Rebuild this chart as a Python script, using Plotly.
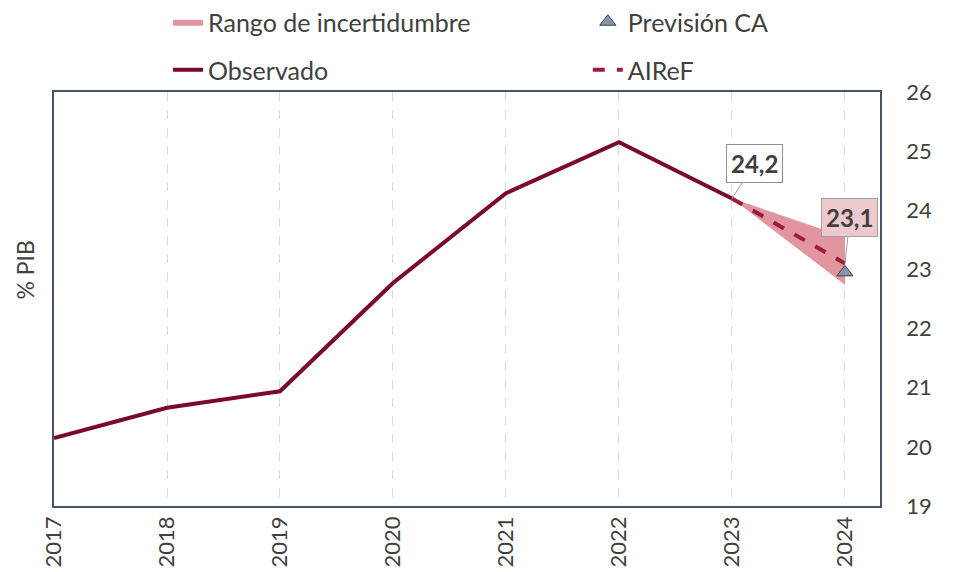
import plotly.graph_objects as go

years = [2017, 2018, 2019, 2020, 2021, 2022, 2023]
observado = [20.15, 20.66, 20.94, 22.77, 24.29, 25.15, 24.2]
airef_x = [2023, 2024]
airef_y = [24.2, 23.1]
band_lower = [24.2, 22.74]
band_upper = [24.2, 23.55]
ca_x = [2024]
ca_y = [22.95]
tick_years = [2017, 2018, 2019, 2020, 2021, 2022, 2023, 2024]

FONT = "Lato"
TXT = "#404040"

fig = go.Figure()
fig.add_trace(go.Scatter(x=airef_x, y=band_lower, mode="lines", line=dict(width=0),
                         showlegend=False, hoverinfo="skip"))
fig.add_trace(go.Scatter(x=airef_x, y=band_upper, mode="lines", line=dict(width=0),
                         fill="tonexty", fillcolor="#e3959f", name="Rango de incertidumbre",
                         legend="legend"))
fig.add_trace(go.Scatter(x=years, y=observado, mode="lines", name="Observado",
                         line=dict(color="#7b0a2a", width=4), legend="legend3"))
fig.add_trace(go.Scatter(x=airef_x, y=airef_y, mode="lines", name="AIReF",
                         line=dict(color="#9c1c3c", width=4, dash="dash"),
                         legend="legend4"))
fig.add_trace(go.Scatter(x=ca_x, y=ca_y, mode="markers", name="Previsión CA",
                         marker=dict(symbol="triangle-up", size=14, color="#8497b0",
                                     line=dict(color="#404040", width=1)),
                         legend="legend2"))

fig.add_annotation(x=airef_x[0], y=airef_y[0], text="<b>24,2</b>", showarrow=True,
                   arrowhead=0, arrowcolor="#a0a0a0", arrowwidth=1, ax=23, ay=-35,
                   bgcolor="white", bordercolor="#909090", borderwidth=1, borderpad=4,
                   font=dict(family=FONT, size=24, color=TXT))
fig.add_annotation(x=airef_x[1], y=airef_y[1], text="<b>23,1</b>", showarrow=True,
                   arrowhead=0, arrowcolor="#a0a0a0", arrowwidth=1, ax=5, ay=-46,
                   bgcolor="#ecc9cc", bordercolor="#a0a0a0", borderwidth=1, borderpad=4,
                   font=dict(family=FONT, size=24, color=TXT))
fig.add_annotation(x=-0.055, y=0.57, xref="paper", yref="paper", text="% PIB",
                   textangle=-90, showarrow=False, font=dict(family=FONT, size=23, color=TXT))

leg_common = dict(orientation="h", xanchor="left", yanchor="middle",
                  xref="container", yref="container",
                  font=dict(family=FONT, size=25, color=TXT), bgcolor="rgba(0,0,0,0)")
col1, col2 = 0.175, 0.6123
row1, row2 = 0.9615, 0.8776

fig.update_layout(
    width=960, height=572,
    margin=dict(l=54, r=80, t=92, b=66, autoexpand=False),
    paper_bgcolor="white", plot_bgcolor="white",
    font=dict(family=FONT, size=20, color=TXT),
    legend=dict(x=col1, y=row1, **leg_common),
    legend2=dict(x=col2, y=row1, **leg_common),
    legend3=dict(x=col1, y=row2, **leg_common),
    legend4=dict(x=col2, y=row2, **leg_common),
    xaxis=dict(range=[2017, 2024.31], tickvals=tick_years, ticktext=[str(y) for y in tick_years],
               tickangle=-90, showgrid=True, gridcolor="#d9d9d9", griddash="dash", gridwidth=1,
               showline=True, mirror=True, linecolor="#44546a", linewidth=1.5,
               zeroline=False, ticks="", tickfont=dict(family=FONT, size=22, color=TXT)),
    yaxis=dict(range=[19, 26], dtick=1, side="right", showgrid=False,
               showline=True, mirror=True, linecolor="#44546a", linewidth=1.5,
               zeroline=False, ticks="", ticklabelstandoff=20,
               tickfont=dict(family=FONT, size=22, color=TXT)),
)

fig.write_html("out.html", config={"displayModeBar": False},
               post_script="document.body.style.margin='0';")
